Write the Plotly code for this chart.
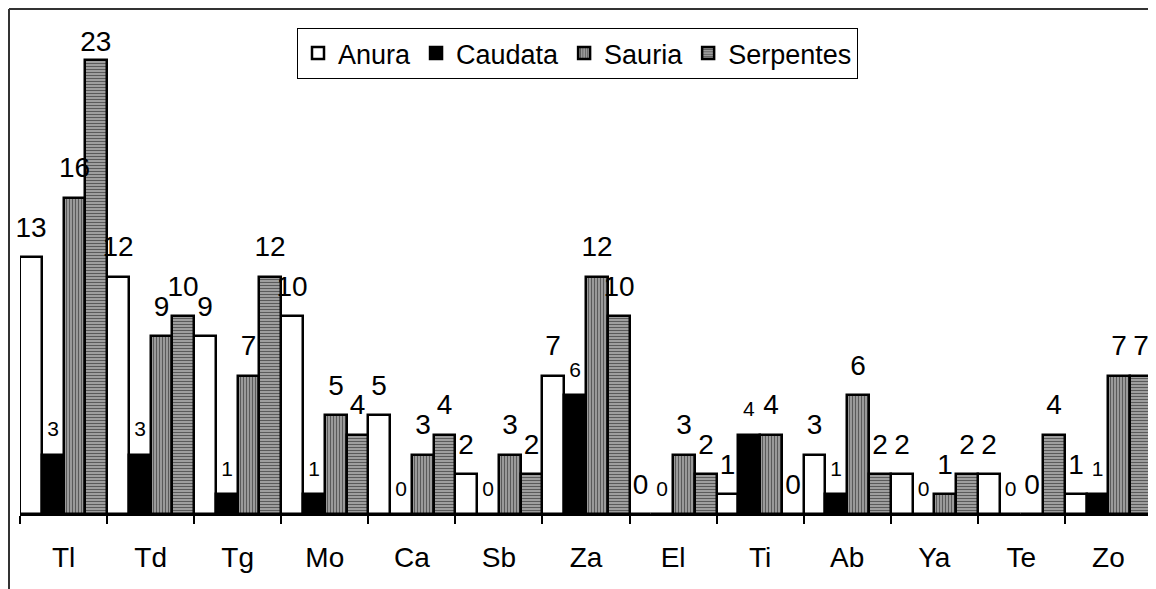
import plotly.graph_objects as go

categories = ["Tl", "Td", "Tg", "Mo", "Ca", "Sb", "Za", "El", "Ti", "Ab", "Ya", "Te", "Zo"]
anura = [13, 12, 9, 10, 5, 2, 7, 0, 1, 3, 2, 2, 1]
caudata = [3, 3, 1, 1, 0, 0, 6, 0, 4, 1, 0, 0, 1]
sauria = [16, 9, 7, 5, 3, 3, 12, 3, 4, 6, 1, 0, 7]
serpentes = [23, 10, 12, 4, 4, 2, 10, 2, 0, 2, 2, 4, 7]

FONT = "Liberation Sans, Arial, sans-serif"
OFF = 8  # page body margin
W, H = 1156 - OFF, 589 - OFF
ML, MR, MT, MB = 20 - OFF, 4, 20 - OFF, 75
PW, PH = W - ML - MR, H - MT - MB
YMAX = 25
UNIT = PH / YMAX                 # pixels per value unit
LABEL_LIFT = 11.5 / UNIT          # extra label gap above bars (value units)
CLIP_TOP = 23 - 0.5               # labels above this would leave the plot area: keep them unlifted

def px_x(p):  # p in page pixels
    return (p - OFF - ML) / PW

def px_y(p):
    return (H - MB - (p - OFF)) / PH

fig = go.Figure()

def add(name, vals, color, pattern=None, tsize=28):
    marker = dict(color=color, line=dict(color="black", width=2.5))
    if pattern:
        marker["pattern"] = pattern
    clipped = [str(v) if v >= CLIP_TOP else "" for v in vals]
    lifted = [str(v) if v < CLIP_TOP else "" for v in vals]
    fig.add_trace(go.Bar(
        name=name, x=categories, y=vals, marker=marker,
        text=clipped, textposition="outside",
        textfont=dict(family=FONT, size=tsize, color="black"),
        constraintext="none", cliponaxis=False, hoverinfo="x+y",
    ))
    fig.add_trace(go.Bar(
        name=name + " labels", x=categories, y=vals, yaxis="y2",
        marker=dict(color="rgba(0,0,0,0)", line=dict(width=0)),
        text=lifted, textposition="outside",
        textfont=dict(family=FONT, size=tsize, color="black"),
        constraintext="none", cliponaxis=False, showlegend=False, hoverinfo="skip",
    ))

add("Anura", anura, "white")
add("Caudata", caudata, "black", tsize=21)
add("Sauria", sauria, "#9a9a9a",
    dict(shape="|", size=3, solidity=0.45, fgcolor="#5a5a5a", bgcolor="#a8a8a8", fillmode="replace"))
add("Serpentes", serpentes, "#9a9a9a",
    dict(shape="-", size=3, solidity=0.45, fgcolor="#5a5a5a", bgcolor="#acacac", fillmode="replace"))

fig.update_layout(
    width=W, height=H,
    margin=dict(l=ML, r=MR, t=MT, b=MB),
    paper_bgcolor="white", plot_bgcolor="white",
    barmode="group", bargap=0, bargroupgap=0,
    showlegend=True,
    legend=dict(
        orientation="h", x=px_x(297), y=px_y(28), xanchor="left", yanchor="top",
        font=dict(family=FONT, size=27, color="black"),
        bordercolor="black", borderwidth=1, bgcolor="white",
        itemwidth=30, tracegroupgap=0,
    ),
    font=dict(family=FONT, color="black"),
    xaxis=dict(
        type="category", showline=True, linecolor="black", linewidth=1.5,
        ticks="outside", ticklen=8, tickwidth=1.5, tickcolor="black",
        tickson="boundaries", showgrid=False, zeroline=False,
        tickfont=dict(family=FONT, size=28, color="black"),
        ticklabelstandoff=18,
    ),
    yaxis=dict(range=[0, YMAX], visible=False, showgrid=False, zeroline=False),
    yaxis2=dict(range=[-LABEL_LIFT, YMAX - LABEL_LIFT], overlaying="y", visible=False,
                showgrid=False, zeroline=False),
    shapes=[
        dict(type="line", xref="paper", yref="paper",
             x0=px_x(9), x1=px_x(9), y0=px_y(9), y1=px_y(600),
             line=dict(color="#333333", width=2)),
        dict(type="line", xref="paper", yref="paper",
             x0=px_x(9), x1=px_x(1170), y0=px_y(9), y1=px_y(9),
             line=dict(color="#333333", width=2)),
    ],
)

fig.write_html("out.html")
